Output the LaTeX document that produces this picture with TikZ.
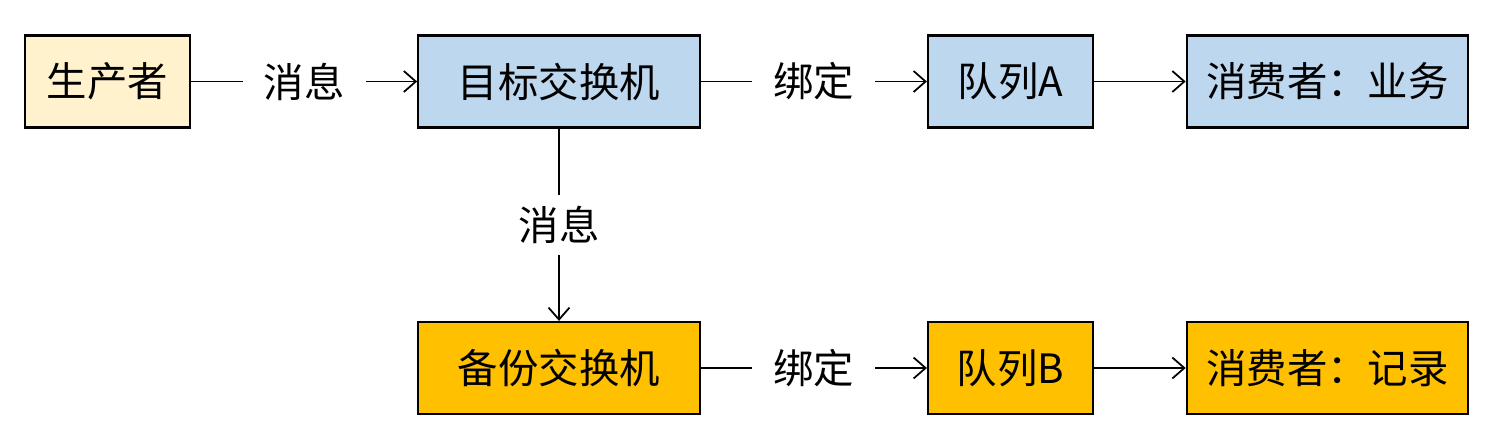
\documentclass[tikz,border=0pt]{standalone}
\usepackage{fontspec}
\setmainfont{Noto Sans CJK SC}
\usetikzlibrary{arrows.meta,positioning}
\definecolor{prodyellow}{HTML}{FFF2CC}
\definecolor{targetblue}{HTML}{BDD7EE}
\definecolor{backuporange}{HTML}{FFC000}

\begin{document}
\begin{tikzpicture}[->, >={Straight Barb[length=2.4mm,width=4.2mm]}, line width=1pt, node distance=9.03cm, font=\fontsize{23}{27}\selectfont]
 % Define block styles
	\tikzstyle{block} = [rectangle, draw=black, line width=1.25pt, minimum height=1.84cm, text centered, inner sep=0pt]
	\tikzstyle{short} = [block, minimum width=3.3cm]
	\tikzstyle{long} = [block, minimum width=5.63cm]
	\tikzstyle{label} = [fill=white, inner xsep=0.42cm, inner ysep=0.22cm]
	\useasboundingbox (0,0) rectangle (29.88,8.68);
%%====nodes===============================================================
	\node	[short, fill=prodyellow]	(producer)	at (2.15,7.05)	{生产者};
	\node	[long, fill=targetblue]		(target)	[right of=producer]	{目标交换机};
	\node	[short, fill=targetblue]	(queueA)	[right of=target]	{队列A};
	\node	[long, fill=targetblue]		(consumerA)	[right of=queueA, node distance=6.34cm]	{消费者：业务};
	\node	[long, fill=backuporange]	(backup)	[below of=target, node distance=5.73cm]	{备份交换机};
	\node	[short, fill=backuporange]	(queueB)	[right of=backup]	{队列B};
	\node	[long, fill=backuporange]	(consumerB)	[right of=queueB, node distance=6.34cm]	{消费者：记录};
%%====edges===============================================================
	\draw (producer) -- node [label] {消息} (target);
	\draw (target) -- node [label] {绑定} (queueA);
	\draw (queueA) -- (consumerA);
	\draw (target) -- node [label] {消息} (backup);
	\draw (backup) -- node [label] {绑定} (queueB);
	\draw (queueB) -- (consumerB);
\end{tikzpicture}
\end{document}
